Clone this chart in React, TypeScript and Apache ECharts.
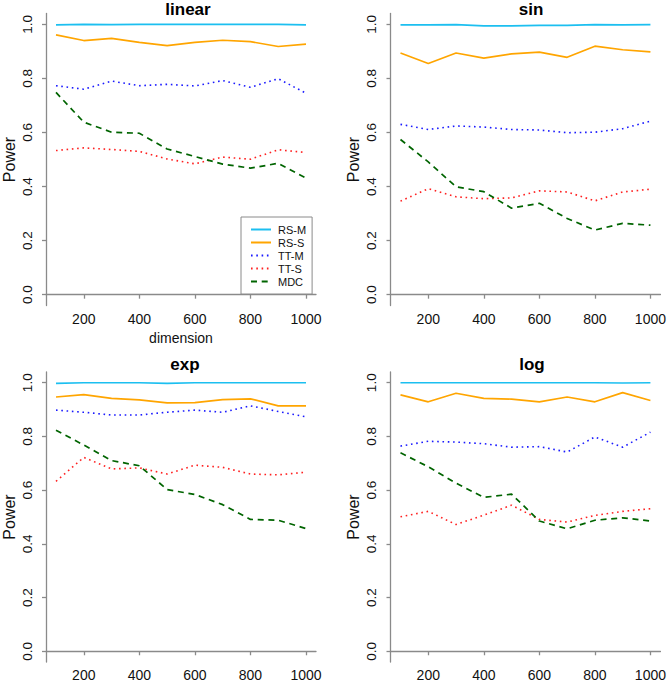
import React, { useEffect, useRef } from "react";
import * as echarts from "echarts";

const dims = [100, 200, 300, 400, 500, 600, 700, 800, 900, 1000];
const xTicks = [200, 400, 600, 800, 1000];
const yTicks = [0, 0.2, 0.4, 0.6, 0.8, 1.0];
const methods = ["RS-M", "RS-S", "TT-M", "TT-S", "MDC"];
const panelTitles = ["linear", "sin", "exp", "log"];

const linearRSM = [0.998, 1.0, 0.999, 1.0, 1.0, 1.0, 1.0, 1.0, 1.0, 0.998];
const linearRSS = [0.961, 0.94, 0.948, 0.933, 0.921, 0.933, 0.941, 0.936, 0.918, 0.927];
const linearTTM = [0.773, 0.76, 0.79, 0.773, 0.778, 0.772, 0.792, 0.767, 0.799, 0.745];
const linearTTS = [0.533, 0.543, 0.537, 0.53, 0.502, 0.484, 0.509, 0.501, 0.536, 0.526];
const linearMDC = [0.748, 0.638, 0.601, 0.597, 0.539, 0.511, 0.483, 0.468, 0.486, 0.431];

const sinRSM = [0.998, 0.998, 0.999, 0.994, 0.994, 0.996, 0.996, 0.999, 0.998, 0.999];
const sinRSS = [0.894, 0.855, 0.894, 0.875, 0.891, 0.897, 0.878, 0.919, 0.906, 0.898];
const sinTTM = [0.63, 0.611, 0.624, 0.62, 0.611, 0.609, 0.599, 0.601, 0.614, 0.642];
const sinTTS = [0.346, 0.392, 0.362, 0.355, 0.358, 0.384, 0.38, 0.347, 0.38, 0.39];
const sinMDC = [0.574, 0.491, 0.399, 0.381, 0.32, 0.338, 0.282, 0.239, 0.264, 0.257];

const expRSM = [0.998, 1.0, 1.0, 1.0, 0.998, 1.0, 1.0, 1.0, 1.0, 1.0];
const expRSS = [0.947, 0.956, 0.942, 0.936, 0.925, 0.926, 0.937, 0.94, 0.914, 0.914];
const expTTM = [0.898, 0.89, 0.88, 0.88, 0.89, 0.898, 0.89, 0.914, 0.893, 0.873];
const expTTS = [0.633, 0.722, 0.679, 0.683, 0.66, 0.693, 0.685, 0.66, 0.657, 0.667];
const expMDC = [0.823, 0.768, 0.71, 0.691, 0.602, 0.584, 0.546, 0.491, 0.488, 0.457];

const logRSM = [1.0, 1.0, 1.0, 1.0, 1.0, 1.0, 1.0, 1.0, 0.999, 1.0];
const logRSS = [0.955, 0.929, 0.961, 0.942, 0.939, 0.929, 0.947, 0.929, 0.963, 0.934];
const logTTM = [0.764, 0.782, 0.779, 0.773, 0.76, 0.762, 0.742, 0.798, 0.76, 0.816];
const logTTS = [0.501, 0.521, 0.472, 0.507, 0.544, 0.491, 0.481, 0.506, 0.521, 0.531];
const logMDC = [0.739, 0.687, 0.626, 0.573, 0.585, 0.485, 0.456, 0.488, 0.497, 0.485];

const panelData = [
  [linearRSM, linearRSS, linearTTM, linearTTS, linearMDC],
  [sinRSM, sinRSS, sinTTM, sinTTS, sinMDC],
  [expRSM, expRSS, expTTM, expTTS, expMDC],
  [logRSM, logRSS, logTTM, logTTS, logMDC],
];

const FONT = "Liberation Sans, Arial, Helvetica, sans-serif";
const AXIS_COLOR = "#8a8a8a";

const lineStyles: any[] = [
  { color: "#1cbff0", width: 1.7, type: "solid" },
  { color: "#ffa500", width: 1.7, type: "solid" },
  { color: "#1a1aff", width: 1.6, type: [1.6, 3.7] },
  { color: "#ff2020", width: 1.6, type: [1.6, 3.7] },
  { color: "#006400", width: 1.7, type: [6, 4.7] },
];

const grids = [
  { left: 44, top: 13.5, width: 272, height: 292 },
  { left: 390.5, top: 13.5, width: 273, height: 292 },
  { left: 44, top: 372, width: 272, height: 291 },
  { left: 390.5, top: 372, width: 273, height: 291 },
];

const titlePos = [
  [188, 9.5],
  [531, 9.5],
  [185, 364],
  [532, 364],
];

export default function App() {
  const ref = useRef<HTMLDivElement>(null);
  useEffect(() => {
    document.body.style.margin = "0";
    if (!ref.current) return;
    const chart = echarts.init(ref.current, undefined, { renderer: "svg" });

    const xAxis = grids.map((_, i) => ({
      type: "value",
      gridIndex: i,
      min: 64,
      max: 1036,
      name: i === 0 ? "dimension" : "",
      nameLocation: "middle",
      nameGap: 25,
      nameTextStyle: { fontFamily: FONT, fontSize: 14, color: "#111" },
      axisLine: { show: true, lineStyle: { color: AXIS_COLOR, width: 1.3 } },
      axisTick: { show: true, length: 4, customValues: xTicks, lineStyle: { color: AXIS_COLOR, width: 1.3 } },
      axisLabel: {
        customValues: xTicks,
        margin: 6,
        fontFamily: FONT,
        fontSize: 14,
        color: "#111",
        formatter: (v: number) => String(v),
      },
      splitLine: { show: false },
    }));

    const yAxis = grids.map((_, i) => ({
      type: "value",
      gridIndex: i,
      min: -0.04,
      max: 1.04,
      name: "Power",
      nameLocation: "middle",
      nameGap: 29,
      nameTextStyle: { fontFamily: FONT, fontSize: 16, color: "#111" },
      axisLine: { show: true, lineStyle: { color: AXIS_COLOR, width: 1.3 } },
      axisTick: { show: true, length: 4, customValues: yTicks, lineStyle: { color: AXIS_COLOR, width: 1.3 } },
      axisLabel: {
        customValues: yTicks,
        rotate: 90,
        margin: 12,
        fontFamily: FONT,
        fontSize: 13.5,
        color: "#111",
        formatter: (v: number) => v.toFixed(1),
      },
      splitLine: { show: false },
    }));

    const series: any[] = [];
    panelData.forEach((arrs, p) => {
      arrs.forEach((arr, m) => {
        series.push({
          type: "line",
          name: methods[m],
          xAxisIndex: p,
          yAxisIndex: p,
          symbol: "none",
          data: dims.map((d, j) => [d, arr[j]]),
          lineStyle: lineStyles[m],
          itemStyle: { color: lineStyles[m].color },
          z: 2 + m,
        });
      });
    });

    chart.setOption({
      animation: false,
      backgroundColor: "#ffffff",
      grid: grids,
      xAxis,
      yAxis,
      series,
      legend: {
        data: methods,
        orient: "vertical",
        left: 241,
        top: 217,
        padding: [7, 6, 7, 9],
        itemWidth: 20,
        itemHeight: 10,
        itemGap: 2,
        borderColor: AXIS_COLOR,
        borderWidth: 1,
        backgroundColor: "#fff",
        selectedMode: false,
        itemStyle: { opacity: 0, color: "transparent", borderWidth: 0 },
        textStyle: { fontFamily: FONT, fontSize: 11, lineHeight: 11, color: "#111", padding: [0, 0, 0, 2] },
      },
      graphic: panelTitles.map((t, i) => ({
        type: "text",
        x: titlePos[i][0],
        y: titlePos[i][1],
        style: {
          text: t,
          fontFamily: FONT,
          fontSize: 17,
          fontWeight: "bold",
          fill: "#000",
          align: "center",
          verticalAlign: "middle",
        },
      })),
    });
    return () => chart.dispose();
  }, []);
  return <div ref={ref} style={{ width: 669, height: 682 }} />;
}
